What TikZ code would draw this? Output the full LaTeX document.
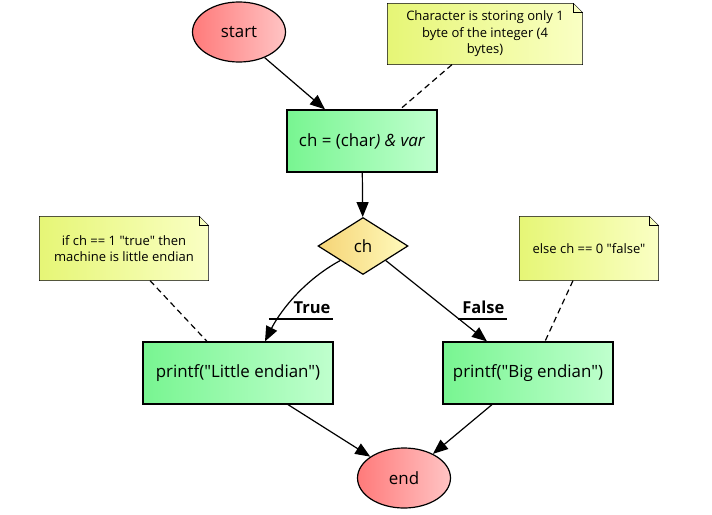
\documentclass[tikz,border=0pt]{standalone}
\usepackage{fontspec}
\setmainfont{Open Sans}[Ligatures=TeXOff]
\usetikzlibrary{shapes.geometric,arrows.meta,backgrounds}
\definecolor{termL}{RGB}{255,122,122}
\definecolor{termR}{RGB}{255,196,196}
\definecolor{procL}{RGB}{120,245,145}
\definecolor{procR}{RGB}{192,255,206}
\definecolor{decL}{RGB}{245,212,118}
\definecolor{decR}{RGB}{255,250,188}
\definecolor{noteL}{RGB}{230,246,118}
\definecolor{noteR}{RGB}{250,255,196}
\begin{document}
\begin{tikzpicture}[x=1pt,y=-1pt,line width=1.2pt,
  >={Triangle[length=15pt,width=12pt]},
  every node/.style={inner sep=0pt,font=\fontsize{16.9}{20}\selectfont},
  term/.style={ellipse,draw,left color=termL,right color=termR,minimum width=93pt,minimum height=60pt},
  proc/.style={rectangle,draw,left color=procL,right color=procR,minimum height=62pt},
  dec/.style={diamond,draw,left color=decL,right color=decR,minimum width=90pt,minimum height=57pt},
  memo/.style={align=center,minimum height=63pt,font=\fontsize{13}{16.5}\selectfont},
  flag/.style={align=right,inner xsep=2pt,inner ysep=5pt,font=\fontsize{16.5}{19}\selectfont\bfseries},
  link/.style={dash pattern=on 6pt off 4pt}]
\useasboundingbox (0,0) rectangle (712,514);

\node[term] (start) at (239,32) {start};
\node[proc,minimum width=150pt] (cast) at (362,141) {ch = (char\textit{) \& var}};
\node[dec] (ch) at (363,246) {ch};
\node[proc,minimum width=190pt] (little) at (238,373) {printf("Little endian")};
\node[proc,minimum width=170pt] (big) at (528,373) {printf("Big endian")};
\node[term] (end) at (404,478) {end};

\node[memo,minimum width=194pt,minimum height=60pt] (ncast) at (485,34) {Character is storing only 1\\byte of the integer (4\\bytes)};
\node[memo,minimum width=168pt] (nlittle) at (124,248.5) {if ch == 1 "true" then\\machine is little endian};
\node[memo,minimum width=138pt] (nbig) at (589,248.5) {else ch == 0 "false"};

\begin{scope}[on background layer]
\foreach \n in {ncast,nlittle,nbig}
  \shade[draw,left color=noteL,right color=noteR] (\n.south west) -- (\n.north west) -- ([xshift=-9pt]\n.north east) -- ([yshift=-9pt]\n.north east) -- (\n.south east) -- cycle;
\end{scope}
\foreach \n in {ncast,nlittle,nbig}
  \draw[line width=1pt] ([xshift=-9pt]\n.north east) |- ([yshift=-9pt]\n.north east);

\draw[->] (start.-45) -- ([xshift=-37pt]cast.north);
\draw[->] (cast) -- (ch);
\draw[->] (ch.south west) .. controls +(-40,22) and +(13,-26) .. ([xshift=27pt]little.north);
\draw[->] (ch.south east) -- ([xshift=-41pt]big.north);
\draw[->] ([xshift=50pt]little.south) -- (end);
\draw[->] ([xshift=-36pt]big.south) -- (end);

\node[flag,text width=59pt,anchor=south east] (ttrue) at (333,319) {True};
\node[flag,text width=44pt,anchor=south east] (tfalse) at (507,319) {False};
\draw (ttrue.south west) -- (ttrue.south east);
\draw (tfalse.south west) -- (tfalse.south east);

\draw[link] ([xshift=-33pt]ncast.south) -- ([xshift=38pt]cast.north);
\draw[link] ([xshift=26pt]nlittle.south) -- ([xshift=-31pt]little.north);
\draw[link] ([xshift=-16pt]nbig.south) -- ([xshift=17pt]big.north);
\end{tikzpicture}
\end{document}
